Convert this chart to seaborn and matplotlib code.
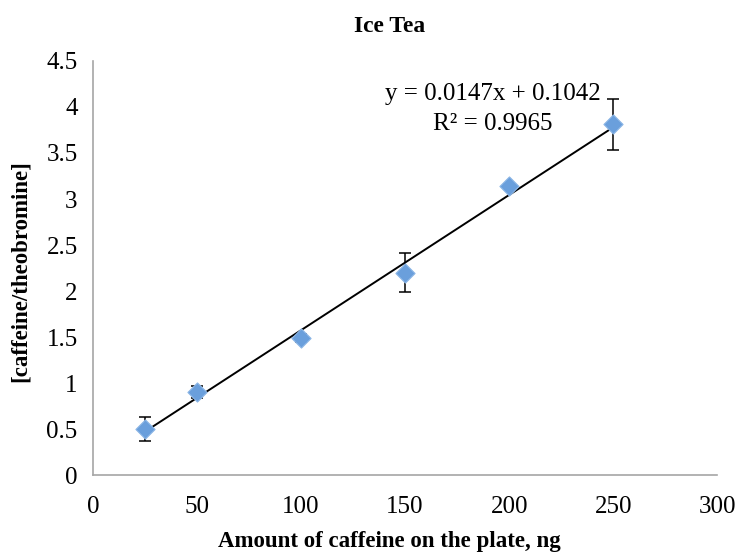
import numpy as np
import pandas as pd
import matplotlib
matplotlib.use("Agg")
import matplotlib.pyplot as plt
import seaborn as sns

# Calibration data: caffeine amount vs. peak ratio, with standard deviations
amount_ng = [25, 50, 100, 150, 200, 250]
ratio = [0.50, 0.90, 1.49, 2.20, 3.14, 3.81]
ratio_sd = [0.13, 0.065, 0.04, 0.21, 0.02, 0.28]

# Linear trendline reported on the chart
slope = 0.0147
intercept = 0.1042
r_squared = 0.9965

x_ticks = [0, 50, 100, 150, 200, 250, 300]
y_ticks = [0, 0.5, 1, 1.5, 2, 2.5, 3, 3.5, 4, 4.5]

df = pd.DataFrame({"amount": amount_ng, "ratio": ratio, "sd": ratio_sd})

sns.set_theme(style="white")
plt.rcParams["font.family"] = ["Liberation Serif", "DejaVu Serif"]
plt.rcParams["text.color"] = "black"

fig = plt.figure(figsize=(7.44, 5.58), dpi=100)
ax = fig.add_axes([0.125, 0.1487, 0.839, 0.742])

# Trendline across the measured range
xs = np.array([min(amount_ng), max(amount_ng)])
ax.plot(xs, slope * xs + intercept, color="black", lw=1.4, zorder=2)

# Error bars
ax.errorbar(df["amount"], df["ratio"], yerr=df["sd"], fmt="none",
            ecolor="black", elinewidth=1.1, capsize=4, capthick=1.1, zorder=3)

# Data points as blue diamonds
sns.scatterplot(data=df, x="amount", y="ratio", marker="D", s=95,
                color="#6a9fdc", edgecolor="#8cb6e6", linewidth=0.8,
                ax=ax, zorder=4, legend=False)

ax.set_xlim(0, 300)
ax.set_ylim(0, 4.5)
ax.set_xticks(x_ticks)
ax.set_xticklabels([str(v) for v in x_ticks])
ax.set_yticks(y_ticks)
ax.set_yticklabels([f"{v:g}" for v in y_ticks])
ax.set_xlabel("")
ax.set_ylabel("")

for side in ["top", "right"]:
    ax.spines[side].set_visible(False)
for side in ["left", "bottom"]:
    ax.spines[side].set_color("#a6a6a6")
    ax.spines[side].set_linewidth(1.2)

ax.tick_params(axis="both", which="major", direction="out", length=6,
               width=1.1, color="#a6a6a6", labelsize=18, labelcolor="black")
ax.tick_params(axis="x", pad=9)
ax.tick_params(axis="y", pad=5)

# Trendline equation and R²
ax.text(0.64, 0.92, f"y = {slope}x + {intercept}", transform=ax.transAxes,
        ha="center", va="center", fontsize=18, color="black")
ax.text(0.64, 0.848, f"R² = {r_squared}", transform=ax.transAxes,
        ha="center", va="center", fontsize=18, color="black")

fig.text(0.524, 0.953, "Ice Tea", ha="center", va="center",
         fontsize=17, fontweight="bold", color="black")
fig.text(0.524, 0.03, "Amount of caffeine on the plate, ng", ha="center",
         va="center", fontsize=16.5, fontweight="bold", color="black")
fig.text(0.027, 0.515, "[caffeine/theobromine]", ha="center", va="center",
         rotation=90, fontsize=16.5, fontweight="bold", color="black")

fig.savefig("out.png", dpi=100)
